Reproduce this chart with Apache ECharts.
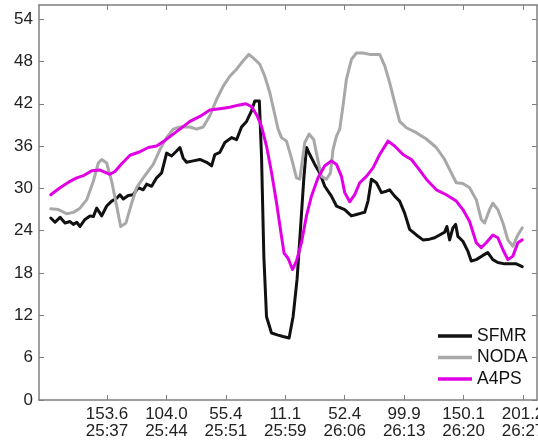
<!DOCTYPE html>
<html><head><meta charset="utf-8">
<script src="https://cdn.jsdelivr.net/npm/echarts@6/dist/echarts.min.js"></script>
<style>html,body{margin:0;padding:0;background:#fff}#c{width:538px;height:442px}</style>
</head><body><div id="c"></div>
<script>
// x positions are in tick units (0 = first labelled tick, 1 tick step apart)
var tickPos = [0, 1, 2, 3, 4, 5, 6, 7];
var tickDist = ['153.6', '104.0', '55.4', '11.1', '52.4', '99.9', '150.1', '201.2'];
var tickTime = ['25:37', '25:44', '25:51', '25:59', '26:06', '26:13', '26:20', '26:27'];
var yTicks = [0, 6, 12, 18, 24, 30, 36, 42, 48, 54];
var seriesNames = ['SFMR', 'NODA', 'A4PS'];

var sfmr = [[-0.946,25.8],[-0.874,25.2],[-0.790,25.9],[-0.706,25.1],[-0.622,25.3],[-0.566,24.9],[-0.509,25.2],[-0.454,24.6],[-0.370,25.6],[-0.286,26.1],[-0.230,26.0],[-0.173,27.2],[-0.089,26.1],[-0.005,27.5],[0.079,28.2],[0.163,28.6],[0.218,29.1],[0.274,28.5],[0.358,29.0],[0.442,29.1],[0.526,30.1],[0.610,29.8],[0.667,30.6],[0.751,30.3],[0.835,31.5],[0.919,32.2],[1.003,35.0],[1.087,34.6],[1.171,35.3],[1.227,35.8],[1.282,34.3],[1.339,33.7],[1.450,33.9],[1.563,34.1],[1.676,33.7],[1.760,33.2],[1.815,34.8],[1.899,35.1],[1.983,36.5],[2.096,37.2],[2.180,36.9],[2.264,38.7],[2.348,39.5],[2.432,41.0],[2.487,42.4],[2.563,42.4],[2.600,34.6],[2.639,20.4],[2.684,11.8],[2.768,9.5],[2.879,9.2],[2.963,9.0],[3.064,8.8],[3.131,11.8],[3.198,17.1],[3.255,24.2],[3.311,31.3],[3.356,35.8],[3.412,34.8],[3.496,33.4],[3.580,32.2],[3.664,30.3],[3.776,28.9],[3.861,27.5],[4.000,27.0],[4.113,26.1],[4.197,26.3],[4.281,26.5],[4.336,26.6],[4.392,28.2],[4.449,31.3],[4.533,30.8],[4.617,29.4],[4.701,29.6],[4.756,29.8],[4.840,28.9],[4.924,28.2],[5.008,26.5],[5.092,24.2],[5.205,23.4],[5.316,22.7],[5.429,22.8],[5.513,23.0],[5.597,23.4],[5.681,23.8],[5.719,24.6],[5.765,22.7],[5.820,24.4],[5.866,24.9],[5.904,23.2],[5.988,22.5],[6.072,21.1],[6.129,19.7],[6.213,19.9],[6.324,20.5],[6.408,20.9],[6.492,19.9],[6.576,19.5],[6.689,19.3],[6.886,19.3],[6.987,18.9]];

var noda = [[-0.946,27.1],[-0.818,27.0],[-0.677,26.4],[-0.566,26.6],[-0.454,27.2],[-0.341,28.4],[-0.230,31.0],[-0.146,33.6],[-0.089,34.1],[-0.005,33.6],[0.079,31.0],[0.163,27.5],[0.230,24.6],[0.319,25.1],[0.415,27.9],[0.499,30.1],[0.610,31.5],[0.778,33.4],[0.891,35.5],[1.003,37.2],[1.114,38.4],[1.227,38.7],[1.395,38.7],[1.508,38.4],[1.618,38.7],[1.731,40.3],[1.844,42.6],[1.955,44.5],[2.067,45.9],[2.180,46.9],[2.291,48.1],[2.387,49.0],[2.459,48.5],[2.571,47.6],[2.655,45.9],[2.739,43.6],[2.795,41.5],[2.879,38.4],[2.936,37.2],[3.020,36.7],[3.104,34.3],[3.188,31.5],[3.244,31.3],[3.328,36.5],[3.400,37.7],[3.479,36.9],[3.551,33.9],[3.608,31.7],[3.692,31.3],[3.760,32.2],[3.803,35.5],[3.861,37.4],[3.916,38.4],[3.971,41.7],[4.029,45.5],[4.113,48.3],[4.197,49.2],[4.308,49.2],[4.420,49.0],[4.588,49.0],[4.672,47.4],[4.756,45.0],[4.840,42.2],[4.924,39.5],[5.037,38.6],[5.205,37.9],[5.373,37.0],[5.541,35.8],[5.681,34.1],[5.793,32.2],[5.877,30.8],[5.988,30.7],[6.101,30.1],[6.213,28.4],[6.297,25.6],[6.353,25.1],[6.437,27.0],[6.492,27.9],[6.576,27.0],[6.662,25.1],[6.745,22.7],[6.829,21.8],[6.913,23.4],[6.987,24.4]];

var a4ps = [[-0.946,29.1],[-0.790,30.1],[-0.622,31.0],[-0.509,31.5],[-0.398,31.8],[-0.257,32.5],[-0.118,32.6],[0.050,32.0],[0.134,32.4],[0.247,33.5],[0.387,34.7],[0.555,35.2],[0.694,35.8],[0.835,36.0],[0.975,36.8],[1.114,37.7],[1.227,38.4],[1.395,39.5],[1.563,40.2],[1.731,41.1],[1.899,41.3],[2.067,41.5],[2.207,41.8],[2.336,42.0],[2.432,41.6],[2.526,40.3],[2.600,38.8],[2.684,36.0],[2.768,32.3],[2.852,28.0],[2.936,23.2],[2.980,20.8],[3.047,20.1],[3.121,18.5],[3.188,19.7],[3.272,22.3],[3.356,26.1],[3.440,28.9],[3.551,31.5],[3.664,33.2],[3.776,33.9],[3.861,33.4],[3.945,31.7],[4.000,29.4],[4.084,28.1],[4.168,29.1],[4.252,30.8],[4.365,31.7],[4.476,32.9],[4.588,34.8],[4.728,36.7],[4.840,36.0],[4.980,34.8],[5.121,34.1],[5.232,32.9],[5.373,31.3],[5.541,29.8],[5.709,29.1],[5.877,28.2],[5.988,27.0],[6.101,25.3],[6.213,22.3],[6.297,21.6],[6.381,22.3],[6.492,23.4],[6.576,23.0],[6.662,21.3],[6.745,19.9],[6.829,20.4],[6.913,22.3],[6.987,22.7]];

var FONT = '"Liberation Sans", Arial, Helvetica, sans-serif';
var AX = '#7f7f7f';
var xMin = -1.144, xMax = 7.235, yMin = 0, yMax = 56;

function xAxisCfg(pos, labels) {
  return {
    type: 'value', position: pos, min: xMin, max: xMax,
    axisLine: {show: true, onZero: false, lineStyle: {color: AX, width: 1.5}},
    axisTick: {show: true, inside: true, length: 5, customValues: tickPos, lineStyle: {color: AX}},
    axisLabel: labels ? {
      show: true, customValues: tickPos, color: '#222', fontFamily: FONT, fontSize: 17, lineHeight: 17, margin: 6,
      formatter: function (v) { var i = tickPos.indexOf(Math.round(v)); return i < 0 ? '' : tickDist[i] + '\n' + tickTime[i]; }
    } : {show: false},
    splitLine: {show: false}
  };
}
function yAxisCfg(pos, labels) {
  return {
    type: 'value', position: pos, min: yMin, max: yMax,
    axisLine: {show: true, onZero: false, lineStyle: {color: AX, width: 1.5}},
    axisTick: {show: true, inside: true, length: 5, customValues: yTicks, lineStyle: {color: AX}},
    axisLabel: labels ? {show: true, customValues: yTicks, color: '#222', fontFamily: FONT, fontSize: 17, margin: 6} : {show: false},
    splitLine: {show: false}
  };
}

var colors = ['#111111', '#a8a8a8', '#e100e6'];
var datasets = [sfmr, noda, a4ps];
var series = seriesNames.map(function (n, i) {
  return {
    name: n, type: 'line', data: datasets[i], showSymbol: false, symbol: 'none',
    xAxisIndex: 0, yAxisIndex: 0, animation: false,
    lineStyle: {color: colors[i], width: 3, join: 'round', cap: 'round'},
    itemStyle: {color: colors[i]}, z: 2 + i
  };
});

var chart = echarts.init(document.getElementById('c'), null, {renderer: 'canvas'});
chart.setOption({
  animation: false,
  backgroundColor: '#fff',
  grid: {left: 39, right: 1, top: 5, bottom: 42, containLabel: false, outerBoundsMode: 'none'},
  xAxis: [xAxisCfg('bottom', true), xAxisCfg('top', false)],
  yAxis: [yAxisCfg('left', true), yAxisCfg('right', false)],
  legend: {
    orient: 'vertical', left: 433, top: 321, icon: 'rect', itemWidth: 34, itemHeight: 3.5, itemGap: 1.5,
    textStyle: {fontFamily: FONT, fontSize: 17.5, lineHeight: 20, color: '#111'},
    data: seriesNames, selectedMode: false
  },
  series: series
});
</script></body></html>
